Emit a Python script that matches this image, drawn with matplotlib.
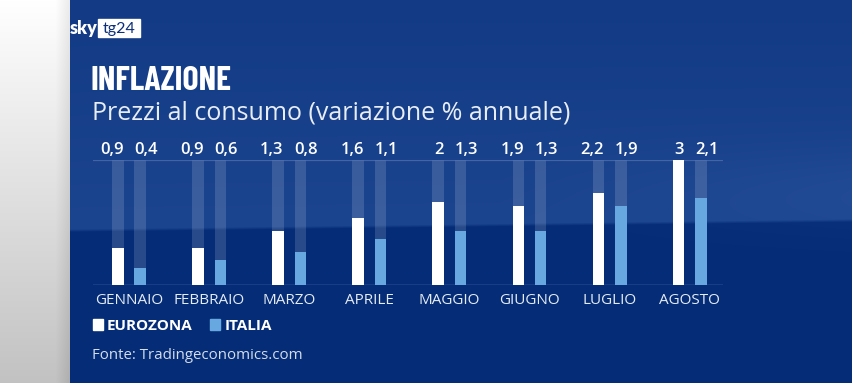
import numpy as np
import matplotlib
matplotlib.use('Agg')
import matplotlib.pyplot as plt
from matplotlib.patches import Rectangle

W, H = 853, 383
# data
mesi = ['GENNAIO', 'FEBBRAIO', 'MARZO', 'APRILE', 'MAGGIO', 'GIUGNO', 'LUGLIO', 'AGOSTO']
eurozona = [0.9, 0.9, 1.3, 1.6, 2.0, 1.9, 2.2, 3.0]
italia = [0.4, 0.6, 0.8, 1.1, 1.3, 1.3, 1.9, 2.1]
ymax = 3.0

C_EU = '#ffffff'
C_IT = '#67a8e0'
FONT = ['Open Sans', 'DejaVu Sans']
TITLE_FONT = ['Barlow Condensed', 'Roboto Condensed', 'DejaVu Sans']


def fx(x):
    return x / W


def fy(y):
    return 1 - y / H


def lab(v):
    return f'{v:g}'.replace('.', ',')


fig = plt.figure(figsize=(W / 100, H / 100), dpi=100)

# ---- background: blue panel with lighter upper band, white strip on the left
bg = fig.add_axes([0, 0, 1, 1])
yy, xx = np.mgrid[0:H, 0:W]
top_hi = np.array([0x12, 0x3a, 0x85]) / 255
top_lo = np.array([0x1c, 0x45, 0x90]) / 255
bot = np.array([0x05, 0x2d, 0x77]) / 255
edge = 231 - 11 * xx / W
v = np.clip(yy / edge, 0, 1)[..., None]
top = top_hi * (1 - v) + top_lo * v
t = np.clip((yy - edge) / 3.0 + 0.5, 0, 1)[..., None]
img = top * (1 - t) + bot * t
# soft glow on the upper right
glow = np.exp(-((yy - 190) / 45.0) ** 2) * np.clip((xx - 500) / 350, 0, 1)
img = img + glow[..., None] * 0.025
# left white strip
strip = xx < 70
g = 1.0 - 0.24 * (yy / H)
shade = np.clip((xx - 55) / 15, 0, 1) * 0.08
sv = (g - shade)[..., None] * np.ones(3)
img = np.where(strip[..., None], sv, img)
bg.imshow(np.clip(img, 0, 1), extent=[0, W, H, 0], aspect='auto')
bg.set_xlim(0, W); bg.set_ylim(H, 0)
bg.axis('off')

# ---- chart area
x0, x1, ybase, ytop = 93, 723, 285, 160
step = 80.1
c0 = 129
ax = fig.add_axes([fx(x0), fy(ybase), (x1 - x0) / W, (ybase - ytop) / H])
ax.patch.set_alpha(0)
ax.set_xlim(-(c0 - x0) / step, (x1 - c0) / step)
ax.set_ylim(0, ymax)
for s in ax.spines.values():
    s.set_visible(False)
ax.set_xticks([]); ax.set_yticks([])

idx = np.arange(len(mesi))
bw, off = 0.143, 0.14
# faded tracks up to the maximum
ax.bar(idx - off, [ymax] * len(idx), width=bw, color='white', alpha=0.14, lw=0)
ax.bar(idx + off, [ymax] * len(idx), width=bw, color='white', alpha=0.14, lw=0)
ax.bar(idx - off, eurozona, width=bw, color=C_EU, lw=0, zorder=3)
ax.bar(idx + off, italia, width=bw, color=C_IT, lw=0, zorder=3)
ax.axhline(ymax, color='#5574b0', lw=0.9, alpha=0.7)
ax.axhline(0, color='#6283c4', lw=1.0)

for i in idx:
    # eurozona value flush with the right edge of its bar, italia with the left edge
    ax.annotate(lab(eurozona[i]), (i - off + bw / 2, ymax), xytext=(0, 4.5),
                textcoords='offset points', ha='right', va='baseline', color='white',
                fontsize=12, family=FONT, weight='semibold')
    ax.annotate(lab(italia[i]), (i + off - bw / 2, ymax), xytext=(0, 4.5),
                textcoords='offset points', ha='left', va='baseline', color='white',
                fontsize=12, family=FONT, weight='semibold')
    ax.annotate(mesi[i], (i, 0), xytext=(0, -13.8), textcoords='offset points',
                ha='center', va='baseline', color='#e6ecf6', fontsize=11,
                family=FONT)

# ---- titles
fig.text(fx(91), fy(90), 'INFLAZIONE', color='white', fontsize=24.5, weight='bold',
         family=TITLE_FONT, ha='left', va='baseline')
fig.text(fx(92), fy(120), 'Prezzi al consumo (variazione % annuale)', color='#e8edf6',
         fontsize=18, family=FONT, ha='left', va='baseline')

# ---- legend
fig.patches.append(Rectangle((fx(93), fy(330)), 10 / W, 11 / H, color=C_EU,
                             transform=fig.transFigure, figure=fig))
fig.text(fx(107), fy(329.5), 'EUROZONA', color='white', fontsize=11, weight='bold',
         family=FONT, ha='left', va='baseline')
fig.patches.append(Rectangle((fx(210), fy(330)), 10 / W, 11 / H, color=C_IT,
                             transform=fig.transFigure, figure=fig))
fig.text(fx(225), fy(329.5), 'ITALIA', color='white', fontsize=11, weight='bold',
         family=FONT, ha='left', va='baseline')

fig.text(fx(92), fy(359), 'Fonte: Tradingeconomics.com', color='#d5ddeb', fontsize=10.8,
         family=FONT, ha='left', va='baseline')

# ---- sky tg24 logo
fig.text(fx(70), fy(34), 'sky', color='white', fontsize=13, weight='heavy',
         family=['Lato', 'DejaVu Sans'], ha='left', va='baseline')
fig.patches.append(Rectangle((fx(98), fy(37)), 42 / W, 18 / H, color='white',
                             transform=fig.transFigure, figure=fig))
fig.text(fx(119), fy(33), 'tg24', color='#0b2f78', fontsize=11.5,
         family=['Lato', 'DejaVu Sans'], ha='center', va='baseline')

fig.savefig('out.png', dpi=100)
